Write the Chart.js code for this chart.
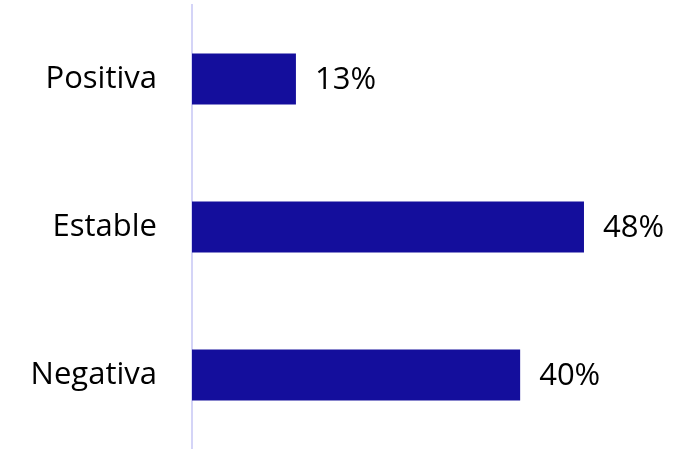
<!DOCTYPE html>
<html>
<head>
<meta charset="utf-8">
<script src="https://cdn.jsdelivr.net/npm/chart.js@4"></script>
<style>
  body { margin: 0; background: #fff; }
  #wrap { width: 694px; height: 449px; }
</style>
</head>
<body>
<div id="wrap"><canvas id="bar-chart" width="694" height="449"></canvas></div>
<script>
// categories and values (percent)
const categories = ["Positiva", "Estable", "Negativa"];
const values = [12.7, 47.9, 40.1];

const fontFamily = "'Open Sans', sans-serif";

// draws the "13%" style labels just past the end of each bar
const valueLabels = {
  id: "valueLabels",
  afterDatasetsDraw(chart) {
    const ctx = chart.ctx;
    const meta = chart.getDatasetMeta(0);
    ctx.save();
    ctx.font = "31px " + fontFamily;
    ctx.fillStyle = "#000";
    ctx.textAlign = "left";
    ctx.textBaseline = "middle";
    meta.data.forEach((bar, i) => {
      ctx.fillText(Math.round(values[i]) + "%", bar.x + 19, bar.y + 1);
    });
    ctx.restore();
  },
};

new Chart(document.querySelector("#bar-chart").getContext("2d"), {
  type: "bar",
  data: {
    labels: categories,
    datasets: [
      {
        data: values,
        backgroundColor: "#140E9C",
        borderWidth: 0,
        categoryPercentage: 1,
        barPercentage: 0.345,
      },
    ],
  },
  options: {
    indexAxis: "y",
    responsive: false,
    animation: false,
    layout: { padding: { top: 5, right: 11, bottom: 0, left: 0 } },
    plugins: { legend: { display: false }, tooltip: { enabled: false } },
    scales: {
      x: { display: false, min: 0, max: 60 },
      y: {
        afterFit(axis) {
          // fixed width and no vertical padding from the tick labels
          axis.width = 192;
          axis.paddingTop = 0;
          axis.paddingBottom = 0;
        },
        grid: { display: false, drawTicks: false },
        border: { display: true, color: "#D4D4F7", width: 2 },
        ticks: {
          padding: 35,
          color: "#000",
          font: { family: fontFamily, size: 31 },
        },
      },
    },
  },
  plugins: [valueLabels],
});
</script>
</body>
</html>
